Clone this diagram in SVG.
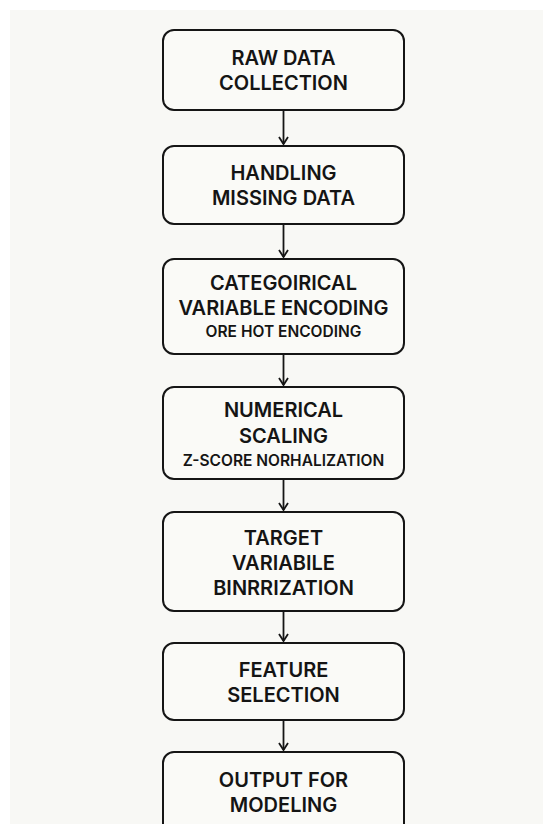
<svg xmlns="http://www.w3.org/2000/svg" width="543" height="824" viewBox="0 0 543 824">
  <defs>
    <style>
      .box { fill: #fafaf7; stroke: #151515; stroke-width: 2; }
      .t { font-family: Inter, "Liberation Sans", sans-serif; font-weight: 600; fill: #141414; text-anchor: middle; }
      .big { font-size: 20px; }
      .small { font-size: 15.5px; }
      .edge { stroke: #151515; stroke-width: 1.8; fill: none; }
    </style>
    <marker id="arrow" viewBox="0 0 12 12" refX="10" refY="6" markerWidth="12" markerHeight="12" markerUnits="userSpaceOnUse" orient="auto">
      <path d="M 3 1.5 L 10 6 L 3 10.5" fill="none" stroke="#151515" stroke-width="1.8"/>
    </marker>
  </defs>

  <rect x="0" y="0" width="543" height="824" fill="#ffffff"/>
  <rect x="10" y="10" width="533" height="814" fill="#f8f8f5"/>

  <g id="connectors">
    <line class="edge" x1="283.5" y1="110" x2="283.5" y2="144" marker-end="url(#arrow)"/>
    <line class="edge" x1="283.5" y1="224" x2="283.5" y2="257" marker-end="url(#arrow)"/>
    <line class="edge" x1="283.5" y1="354" x2="283.5" y2="385" marker-end="url(#arrow)"/>
    <line class="edge" x1="283.5" y1="479" x2="283.5" y2="510" marker-end="url(#arrow)"/>
    <line class="edge" x1="283.5" y1="611" x2="283.5" y2="641" marker-end="url(#arrow)"/>
    <line class="edge" x1="283.5" y1="720" x2="283.5" y2="750" marker-end="url(#arrow)"/>
  </g>

  <g id="raw-data">
    <rect class="box" x="163" y="30" width="241" height="80" rx="11"/>
    <text class="t big" x="283.5" y="65">RAW DATA</text>
    <text class="t big" x="283.5" y="90">COLLECTION</text>
  </g>

  <g id="missing-data">
    <rect class="box" x="163" y="146" width="241" height="78" rx="11"/>
    <text class="t big" x="283.5" y="180">HANDLING</text>
    <text class="t big" x="283.5" y="205">MISSING DATA</text>
  </g>

  <g id="categorical-encoding">
    <rect class="box" x="163" y="259" width="241" height="95" rx="11"/>
    <text class="t big" x="283.5" y="290">CATEGOIRICAL</text>
    <text class="t big" x="283.5" y="315">VARIABLE ENCODING</text>
    <text class="t small" x="283.5" y="337">ORE HOT ENCODING</text>
  </g>

  <g id="numerical-scaling">
    <rect class="box" x="163" y="387" width="241" height="92" rx="11"/>
    <text class="t big" x="283.5" y="417">NUMERICAL</text>
    <text class="t big" x="283.5" y="443">SCALING</text>
    <text class="t small" x="283.5" y="466">Z-SCORE NORHALIZATION</text>
  </g>

  <g id="target-binarization">
    <rect class="box" x="163" y="512" width="241" height="99" rx="11"/>
    <text class="t big" x="283.5" y="545">TARGET</text>
    <text class="t big" x="283.5" y="570">VARIABILE</text>
    <text class="t big" x="283.5" y="595">BINRRIZATION</text>
  </g>

  <g id="feature-selection">
    <rect class="box" x="163" y="643" width="241" height="77" rx="11"/>
    <text class="t big" x="283.5" y="677">FEATURE</text>
    <text class="t big" x="283.5" y="702">SELECTION</text>
  </g>

  <g id="output">
    <rect class="box" x="163" y="752" width="241" height="90" rx="11"/>
    <text class="t big" x="283.5" y="787">OUTPUT FOR</text>
    <text class="t big" x="283.5" y="812">MODELING</text>
  </g>
</svg>
